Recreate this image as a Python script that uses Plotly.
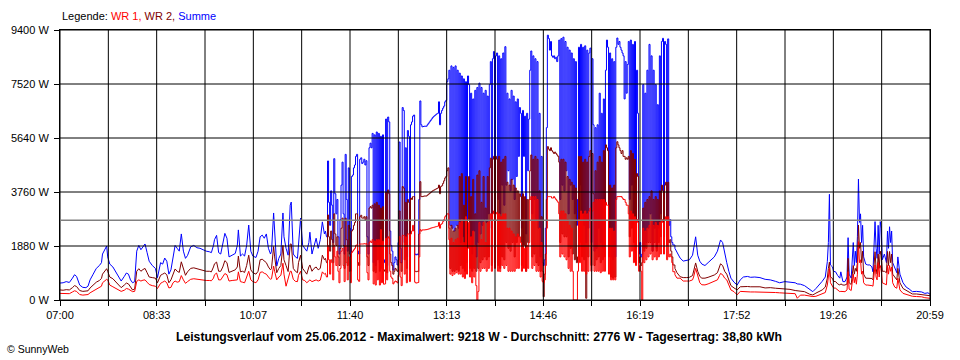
import plotly.graph_objects as go

# ---------------- data ----------------
TICK_LABELS = ["07:00", "08:33", "10:07", "11:40", "13:13", "14:46", "16:19", "17:52", "19:26", "20:59"]
Y_TICKS = [0, 1880, 3760, 5640, 7520, 9400]
Y_LABELS = ["0 W", "1880 W", "3760 W", "5640 W", "7520 W", "9400 W"]
DAY_MINUTES = 839          # 07:00 .. 20:59
AVERAGE_W = 2776
MAX_W = 9218
YIELD_KWH = "38,80"

# morning (minutes after 07:00)
AM_T = [0, 3, 6, 9, 12, 14, 16, 19, 22, 25, 27, 29, 32, 35, 38, 40, 41, 43, 45, 46,
        48, 51, 54, 57, 59, 62, 64, 66, 68, 70, 72, 74, 76, 78, 80, 82, 84, 86, 89, 92,
        94, 95, 97, 99, 101, 103, 105, 107, 109, 111, 113, 115, 117, 119, 121, 123, 126, 129, 132, 135,
        138, 141, 144, 146, 148, 149, 151, 153, 155, 157, 159, 161, 163, 166, 169,
        171, 172, 174, 176, 178, 180, 182, 184, 186, 189, 191, 193, 195, 197, 199, 201, 203, 204, 206, 207,
        209, 211, 213, 215, 216, 218, 220, 222, 223, 225, 227, 229, 230, 232, 234, 236, 238, 240, 241, 243,
        245, 247, 249, 251, 253, 255, 256]
AM_SUMME = [590, 600, 640, 610, 760, 880, 820, 520, 440, 430, 480, 700, 900, 1100, 1200, 1300, 1600, 1750, 1880, 1500,
            1250, 1150, 950, 780, 660, 820, 940, 900, 700, 600, 640, 1700, 1900, 1750, 1850, 1950, 1650, 1350, 1200, 1100,
            780, 980, 1300, 1250, 1460, 1350, 900, 1050, 1500, 1900, 1800, 1700, 2300, 1700, 1450, 1550, 1850, 1900, 1820, 1800,
            1750, 1700, 1680, 1650, 1900, 2100, 2250, 1650, 1600, 1950, 2320, 2150, 1500, 1560, 1620,
            1900, 2440, 1530, 1600, 1530, 1900, 2610, 1700, 1530, 1480, 1700, 2200, 2260, 2150, 2300, 1800, 1600, 1700, 3030, 2300,
            1180, 1450, 1600, 3030, 2200, 1800, 1560, 3300, 3410, 1600, 1500, 1450, 2000, 2850, 1900, 1800, 1700, 2000, 2360, 1600,
            1900, 2150, 1800, 2100, 2720, 2300, 2400]
AM_WR2 = [350, 340, 360, 350, 430, 500, 470, 330, 300, 300, 320, 420, 520, 620, 680, 750, 900, 1000, 1090, 1000,
          800, 740, 620, 500, 430, 520, 590, 560, 440, 350, 380, 1000, 1090, 1000, 1060, 1100, 950, 800, 780, 760,
          600, 700, 860, 900, 940, 880, 600, 700, 900, 1080, 1000, 960, 1330, 1050, 860, 980, 1100, 1120, 1090, 1080,
          1050, 1000, 1000, 980, 1150, 1260, 1320, 1000, 1000, 1150, 1370, 1300, 960, 1000, 1050,
          1150, 1530, 980, 1000, 960, 1200, 1560, 1050, 950, 900, 1000, 1400, 1420, 1350, 1300, 1150, 1050, 1100, 1860, 1500,
          950, 1100, 1200, 1900, 1400, 1200, 990, 1950, 1950, 1100, 1000, 950, 1300, 1560, 1100, 1000, 900, 1150, 1220, 1000,
          1100, 1150, 1050, 1100, 1560, 1400, 1450]
AM_WR1 = [230, 230, 240, 220, 280, 320, 300, 190, 170, 170, 190, 250, 310, 370, 420, 480, 600, 660, 720, 700,
          520, 460, 400, 330, 300, 340, 400, 380, 320, 290, 300, 650, 700, 660, 690, 700, 620, 540, 500, 480,
          400, 460, 580, 620, 660, 600, 420, 440, 600, 660, 620, 640, 850, 700, 580, 640, 720, 740, 720, 720,
          700, 680, 680, 670, 760, 880, 940, 700, 700, 800, 920, 880, 660, 680, 700,
          700, 980, 640, 620, 600, 800, 1000, 700, 640, 600, 700, 960, 980, 930, 900, 800, 720, 740, 1180, 1000,
          700, 800, 860, 1280, 900, 480, 700, 1000, 1000, 720, 650, 640, 860, 1000, 700, 680, 600, 680, 700, 640,
          680, 700, 660, 690, 980, 900, 930]

# midday, one sample per minute starting at MID_START
MID_START = 257
MID_SUMME = [
    2200, 4840, 3400, 2600, 3800, 3300, 2000, 4920, 3700, 3000,
    3500, 2200, 1600, 2800, 4000, 4800, 3000, 1600, 5070, 3500,
    1700, 4600, 2500, 1500, 4300, 4350, 4600, 4700, 5000, 5070,
    1700, 1600, 4900, 4950, 4750, 4800, 4900, 4700, 4850, 2200,
    1600, 5300, 5460, 5300, 5800, 1300, 5750, 1200, 5850, 2000,
    5800, 1300, 5700, 1500, 5750, 1400, 1300, 6300, 1200, 6370,
    6200, 2400, 1900, 1700, 1040, 1300, 1500, 1400, 1220, 2000,
    5500, 1800, 1300, 6700, 6600, 2000, 5300, 1500, 5900, 5700,
    1500, 6100, 6200, 6400, 6440, 1600, 1570, 1600, 1570, 3500,
    6930, 6100, 6030, 6040, 6050, 6050, 6050, 6100, 6150, 6200,
    6250, 6300, 6350, 6390, 6420, 6450, 6480, 6500, 6900, 6100,
    6500, 6600, 6680, 6750, 6900, 6950, 7600, 7700, 8000, 2600,
    8150, 2500, 8100, 2400, 8150, 2600, 8000, 2500, 7900, 2000,
    7800, 2200, 7700, 1900, 7600, 2300, 7800, 7500, 2200, 7200,
    1600, 7000, 2400, 7300, 1500, 7400, 2000, 7550, 2300, 7400,
    2600, 7200, 2800, 7300, 2700, 7100, 3000, 7500, 8300, 2500,
    8400, 8650, 3000, 8500, 8600, 3500, 8500, 3000, 8400, 4000,
    8600, 3300, 8820, 4000, 7200, 4500, 7000, 3800, 7300, 4200,
    7100, 3500, 6900, 4300, 7000, 5000, 6700, 6500, 2500, 6600,
    5000, 6400, 2300, 6500, 4500, 6300, 8000, 8670, 3000, 8500,
    3500, 8400, 2800, 8300, 2500, 6500, 1500, 5000, 1300, 1200,
    1400, 2500, 6000, 9220, 9100, 8700, 9000, 8500, 8450, 8500,
    8400, 8450, 8300, 8500, 9050, 3500, 9100, 4000, 9150, 3800,
    9000, 4500, 8800, 3000, 8700, 4000, 8600, 3500, 8400, 3000,
    8300, 2600, 3500, 8800, 4000, 8900, 3000, 8800, 2600, 8850,
    2000, 8700, 2500, 8600, 8770, 2000, 8400, 6100, 1700, 6000,
    1800, 6100, 2500, 7200, 2000, 6500, 1800, 7000, 2200, 8000,
    9050, 8800, 2500, 8600, 1500, 8400, 1400, 8300, 1500, 8800,
    9120, 8900, 9000, 8800, 8700, 8600, 8500, 7000, 8300, 7200,
    8200, 9000, 3500, 9050, 4000, 8900, 3000, 9000, 2500, 8000,
    6500, 1600, 2000, 1500, 1600, 7500, 1800, 7200, 2000, 8000,
    2500, 8900, 3000, 8500, 1700, 8000, 2500, 7500, 1800, 6800,
    2500, 8500, 3000, 9000, 9110, 3500, 9000, 8900, 2500, 9090,
    2600, 2800, 2200, 2000, 1915]
MID_WR2 = [
    1300, 2960, 2200, 1700, 2400, 2100, 1300, 3000, 2300, 1900,
    2200, 1500, 1200, 1800, 2500, 2850, 1900, 1100, 2850, 2100,
    1200, 2600, 1600, 1000, 2400, 2450, 2600, 2700, 3000, 3000,
    1300, 1200, 2900, 2950, 2850, 2850, 2900, 2800, 2900, 1500,
    1200, 3200, 3250, 3200, 3300, 1000, 3350, 950, 3400, 1400,
    3300, 1000, 3200, 1100, 3250, 1050, 1000, 3750, 950, 3830,
    3700, 1600, 1300, 1200, 900, 1000, 1100, 1050, 1000, 1400,
    3100, 1300, 1000, 3950, 3900, 1400, 3400, 1100, 3500, 3400,
    1050, 3550, 3500, 3600, 3600, 1000, 985, 1000, 990, 2300,
    4120, 3600, 3600, 3610, 3620, 3620, 3620, 3650, 3680, 3710,
    3740, 3770, 3800, 3820, 3840, 3860, 3880, 3900, 4000, 3700,
    3950, 3980, 4060, 4150, 4250, 4300, 4500, 4600, 2500, 1100,
    2600, 1000, 2400, 1000, 2500, 1050, 2600, 1000, 4300, 1200,
    4400, 1100, 3300, 1000, 4300, 1300, 2800, 4300, 1100, 3600,
    1000, 4200, 1100, 3000, 1000, 4350, 1100, 4500, 1300, 3400,
    1400, 4300, 1500, 3200, 1400, 4300, 1500, 4600, 4940, 1200,
    4900, 5000, 1300, 5000, 4900, 1200, 5000, 1100, 4800, 1500,
    4900, 1400, 5000, 2000, 4100, 1800, 4000, 1700, 4200, 2000,
    4000, 1500, 3900, 2000, 3800, 2200, 3700, 3600, 1200, 3700,
    1900, 3600, 1000, 3500, 2000, 3500, 4500, 5050, 1500, 4900,
    1600, 5000, 1300, 4900, 1200, 3800, 1000, 2900, 1000, 115,
    900, 1600, 3500, 5340, 5250, 5200, 5300, 5200, 5150, 5100,
    5150, 5100, 5050, 5000, 4800, 2000, 4900, 2300, 4900, 2200,
    4800, 2200, 4300, 1500, 4200, 1800, 4100, 1600, 4000, 1400,
    3900, 1300, 1500, 5000, 2000, 5000, 1500, 4800, 1400, 4900,
    60, 4800, 1500, 5000, 5200, 1200, 5100, 3700, 1200, 4500,
    1400, 4800, 1500, 5000, 1300, 4800, 1400, 5200, 1500, 5400,
    5300, 5200, 1500, 4000, 800, 3900, 760, 4000, 800, 5300,
    5510, 5400, 5300, 5200, 5100, 5200, 5000, 5000, 4900, 4950,
    4900, 5000, 2200, 5200, 2500, 5100, 2000, 4900, 1800, 4400,
    4300, 1300, 1500, 1200, 1300, 3200, 1700, 3400, 1800, 3500,
    2000, 3600, 2000, 3800, 1700, 3500, 2000, 3600, 1700, 3500,
    2000, 3800, 2200, 4000, 3800, 2200, 4000, 4100, 1900, 4100,
    2000, 2100, 1700, 1500, 1220]
MID_WR1 = [
    800, 1900, 1400, 900, 1400, 1300, 700, 1900, 1500, 1200,
    1700, 1000, 600, 1100, 1700, 1800, 1200, 640, 1900, 1300,
    700, 1500, 1000, 600, 1650, 1700, 1750, 1800, 1900, 1920,
    700, 650, 1950, 1950, 1950, 1950, 1960, 1950, 1960, 950,
    700, 2000, 2050, 2000, 2100, 560, 2050, 520, 2100, 700,
    2100, 520, 2450, 600, 2050, 550, 560, 2150, 700, 2200,
    2150, 1000, 800, 750, 560, 620, 660, 640, 600, 860,
    2200, 800, 500, 2250, 2250, 900, 2200, 600, 2300, 2300,
    640, 2300, 2400, 2600, 2400, 620, 590, 600, 610, 1500,
    2450, 2400, 2440, 2440, 2440, 2445, 2450, 2460, 2470, 2480,
    2500, 2510, 2520, 2530, 2540, 2550, 2560, 2570, 2700, 2500,
    2630, 2660, 2730, 2800, 2900, 2950, 3000, 3000, 2100, 900,
    2150, 850, 2000, 900, 2100, 950, 2150, 900, 2700, 900,
    2800, 800, 2000, 750, 2900, 900, 1800, 2700, 800, 2200,
    600, 2400, 800, 1900, 500, 0, 300, 2700, 1000, 2100,
    1100, 2700, 1100, 2000, 1000, 2700, 1100, 2800, 3000, 1000,
    3000, 3100, 1100, 3000, 3050, 1000, 3000, 990, 2900, 1200,
    3000, 1100, 3000, 1200, 2500, 1000, 2500, 1000, 2400, 1000,
    2300, 1000, 2200, 1100, 2300, 1100, 2200, 2000, 1000, 1900,
    1100, 1800, 1000, 1900, 1100, 2000, 3500, 3600, 1100, 3600,
    1200, 3600, 1000, 3500, 1000, 2500, 800, 2000, 650, 600,
    700, 1200, 2500, 3600, 3600, 3600, 3600, 3550, 3550, 3600,
    3550, 3500, 3450, 3400, 3000, 1500, 3100, 1600, 3100, 1500,
    3000, 1400, 2800, 1100, 2600, 1000, 2500, 1000, 0, 0,
    0, 0, 1000, 2800, 1300, 3100, 1000, 3000, 1000, 3100,
    900, 3000, 1000, 3100, 3200, 1000, 3100, 3400, 1000, 3500,
    1000, 3500, 1000, 3500, 950, 3500, 1000, 3500, 1000, 3400,
    3300, 3300, 900, 2500, 700, 2500, 700, 2400, 700, 3500,
    3600, 3600, 3600, 3600, 3600, 3550, 3500, 3500, 3400, 3300,
    3300, 3000, 1500, 3100, 1700, 3000, 1300, 2900, 1200, 2800,
    2700, 1000, 1200, 1000, 0, 2500, 1300, 2400, 1400, 2500,
    1500, 2600, 1600, 2800, 1400, 2600, 1500, 2700, 1400, 2600,
    1500, 2700, 1600, 2800, 2700, 1600, 2800, 2900, 1400, 2900,
    1500, 1600, 1500, 1300, 985]

# afternoon / evening (minutes after 07:00)
PM_T = [593, 595, 598, 601, 604, 607, 610, 611, 613, 615, 617, 619, 622, 625, 628, 631, 634, 636, 637, 639,
        641, 643, 645, 647, 650, 653, 656, 659, 663, 666, 670, 675, 680, 685, 690, 694, 699, 704, 709, 711,
        714, 718, 723, 726, 729, 732, 735, 738, 740, 741, 742, 743, 745, 746, 748, 750, 752, 753, 755, 757,
        759, 760, 761, 763, 765, 766, 767, 768, 769, 770, 771, 772, 773, 774, 775, 777, 779, 781, 783, 784,
        786, 787, 788, 789, 790, 791, 792, 793, 795, 797, 798, 799, 800, 801, 802, 803, 805, 807, 808, 810,
        813, 816, 819, 822, 826, 828, 831, 834, 837, 839]
PM_SUMME = [1800, 1650, 1460, 1355, 1380, 1400, 1560, 1800, 2200, 1560, 1350, 1250, 1200, 1300, 1400, 1500, 1700, 2000, 2090, 2000,
            1600, 1300, 1000, 760, 620, 520, 700, 800, 820, 790, 800, 780, 720, 700, 650, 600, 640, 620, 600, 560,
            550, 500, 350, 290, 400, 520, 650, 800, 1335, 2000, 3680, 1220, 1150, 1000, 980, 850, 760, 980, 640, 640,
            800, 2170, 900, 760, 2000, 1200, 1700, 1300, 2200, 4210, 2700, 3000, 2000, 2600, 1500, 1250, 1220, 1220, 1150, 980,
            2730, 1800, 1450, 2600, 1600, 2730, 2500, 1400, 1600, 1300, 2400, 1800, 2550, 2000, 2400, 1300, 1100, 950, 1500, 900,
            600, 450, 380, 290, 300, 290, 280, 230, 250, 200]
PM_WR2 = [1100, 950, 810, 780, 780, 790, 850, 1000, 1290, 1000, 820, 760, 760, 790, 820, 870, 950, 1150, 1260, 1200,
          1000, 900, 700, 500, 420, 350, 460, 470, 470, 460, 470, 460, 420, 430, 410, 400, 380, 370, 330, 320,
          300, 290, 200, 175, 240, 300, 350, 450, 760, 1100, 1320, 800, 750, 650, 640, 560, 520, 560, 520, 520,
          560, 1450, 600, 540, 1200, 900, 1100, 1000, 1300, 2610, 1800, 2000, 1300, 1700, 900, 760, 760, 760, 750, 700,
          1680, 1100, 900, 1600, 1100, 1700, 1550, 1000, 1000, 950, 1690, 1200, 1690, 1300, 1600, 900, 800, 700, 1100, 600,
          400, 330, 290, 210, 210, 200, 200, 170, 160, 150]
PM_WR1 = [880, 760, 760, 660, 660, 660, 700, 800, 1100, 800, 600, 530, 525, 560, 600, 640, 700, 850, 925, 880,
          760, 700, 530, 350, 290, 180, 300, 290, 280, 280, 280, 280, 270, 260, 260, 250, 240, 240, 220, 60,
          170, 170, 130, 120, 130, 170, 200, 260, 520, 800, 1100, 600, 450, 420, 410, 350, 290, 300, 290, 290,
          350, 986, 380, 330, 900, 600, 800, 550, 900, 2030, 1300, 1400, 900, 1000, 600, 520, 520, 520, 500, 480,
          1220, 800, 700, 1300, 800, 1200, 1100, 600, 550, 530, 1200, 900, 1200, 1000, 1150, 600, 450, 410, 760, 350,
          230, 200, 180, 130, 120, 120, 110, 80, 60, 60]

# ---------------- figure ----------------
FONT = "Liberation Sans, Arial, Helvetica, sans-serif"
mid_t = list(range(MID_START, MID_START + len(MID_SUMME)))

SERIES = [  # drawing order: Summe first, WR 1 on top
    ("Summe", "#0000FF", AM_SUMME, MID_SUMME, PM_SUMME),
    ("WR 2", "#800000", AM_WR2, MID_WR2, PM_WR2),
    ("WR 1", "#FF0000", AM_WR1, MID_WR1, PM_WR1),
]

fig = go.Figure()
for name, color, am, mid, pm in SERIES:
    fig.add_trace(go.Scatter(x=AM_T + mid_t[:1], y=am + mid[:1], mode="lines", name=name,
                             line=dict(color=color, width=1), hoverinfo="skip"))
    fig.add_trace(go.Scatter(x=mid_t + PM_T[:1], y=mid + pm[:1], mode="lines", name=name,
                             line=dict(color=color, width=1, shape="hv"), hoverinfo="skip"))
    fig.add_trace(go.Scatter(x=PM_T, y=pm, mode="lines", name=name,
                             line=dict(color=color, width=1), hoverinfo="skip"))

n_div = 18
x_grid = [k * DAY_MINUTES / n_div for k in range(n_div + 1)]
x_text = [TICK_LABELS[k // 2] if k % 2 == 0 else "" for k in range(n_div + 1)]

shapes = []
for xv in x_grid:
    shapes.append(dict(type="line", xref="x", yref="y", x0=xv, x1=xv, y0=0, y1=Y_TICKS[-1],
                       line=dict(color="black", width=1), layer="above"))
for yv in Y_TICKS:
    shapes.append(dict(type="line", xref="x", yref="y", x0=0, x1=DAY_MINUTES, y0=yv, y1=yv,
                       line=dict(color="black", width=1), layer="above"))
shapes.append(dict(type="line", xref="x", yref="y", x0=0, x1=DAY_MINUTES, y0=AVERAGE_W, y1=AVERAGE_W,
                   line=dict(color="#808080", width=1.5), layer="above"))

annotations = [
    dict(text="Legende: <span style='color:#FF0000'>WR 1,</span> "
              "<span style='color:#800000'>WR 2,</span> "
              "<span style='color:#0000FF'>Summe</span>",
         xref="paper", yref="paper", x=0, y=1, xanchor="left", yanchor="middle",
         xshift=0, yshift=14, showarrow=False, font=dict(family=FONT, size=11, color="black")),
    dict(text="<b>Leistungsverlauf vom 25.06.2012 - Maximalwert: %d W - Durchschnitt: %d W - "
              "Tagesertrag: %s kWh</b>" % (MAX_W, AVERAGE_W, YIELD_KWH),
         xref="paper", yref="paper", x=(479 - 60) / 870, y=0, xanchor="center", yanchor="middle",
         yshift=-37, showarrow=False, font=dict(family=FONT, size=12.2, color="black")),
    dict(text="© SunnyWeb", xref="paper", yref="paper", x=(5 - 60) / 870, y=0,
         xanchor="left", yanchor="middle", yshift=-49, showarrow=False,
         font=dict(family=FONT, size=10.5, color="black")),
]

fig.update_layout(
    width=960, height=360,
    margin=dict(l=60, r=30, t=30, b=60),
    paper_bgcolor="white", plot_bgcolor="white",
    showlegend=False,
    font=dict(family=FONT, size=11, color="black"),
    shapes=shapes, annotations=annotations,
    xaxis=dict(range=[0, DAY_MINUTES], tickmode="array", tickvals=x_grid, ticktext=x_text,
               showgrid=False, zeroline=False, showline=True, mirror=True, linecolor="black",
               linewidth=1, ticks="outside", ticklen=5, tickcolor="black", tickwidth=1,
               tickangle=0, layer="above traces", tickfont=dict(family=FONT, size=11, color="black")),
    yaxis=dict(range=[0, Y_TICKS[-1]], tickmode="array", tickvals=Y_TICKS, ticktext=Y_LABELS,
               showgrid=False, zeroline=False, showline=True, mirror=True, linecolor="black",
               linewidth=1, ticks="outside", ticklen=5, tickcolor="black", tickwidth=1,
               ticklabelstandoff=3,
               layer="above traces", tickfont=dict(family=FONT, size=11, color="black")),
)

fig.write_html("out.html", config={"displayModeBar": False},
               post_script="document.body.style.margin='0';")
